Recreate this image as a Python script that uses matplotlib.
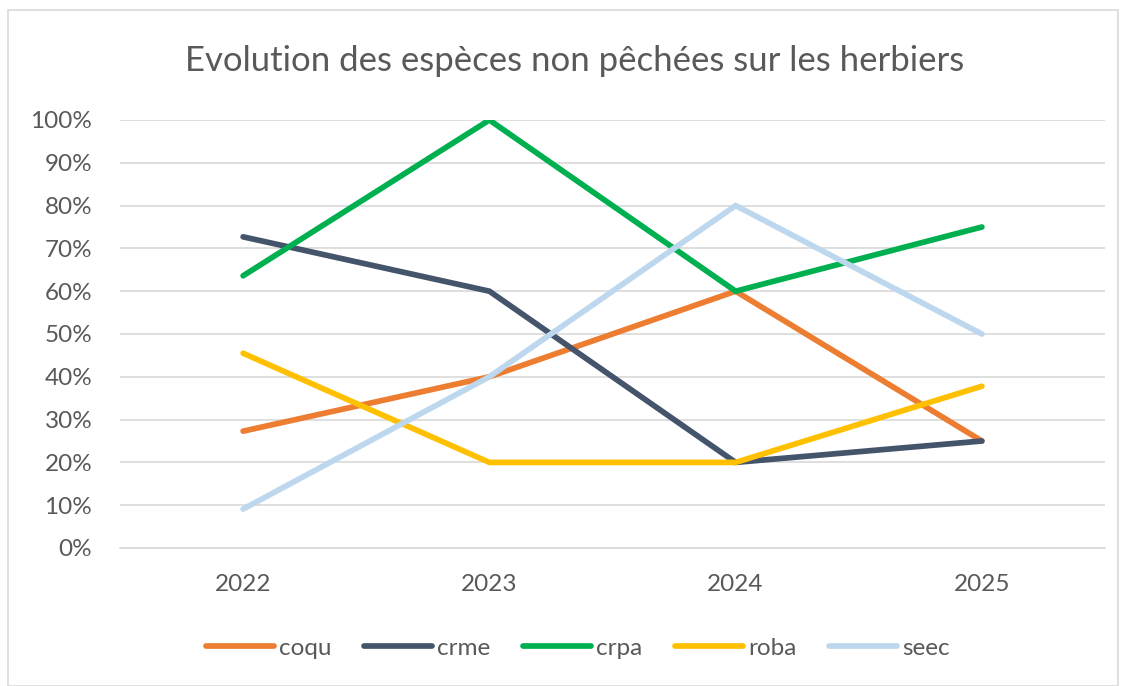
import matplotlib
matplotlib.use("Agg")
import matplotlib.pyplot as plt
from matplotlib.ticker import FuncFormatter, MultipleLocator
from matplotlib.patches import Rectangle

years = ["2022", "2023", "2024", "2025"]
coqu = [27.3, 40.0, 60.0, 25.0]
crme = [72.7, 60.0, 20.0, 25.0]
crpa = [63.6, 100.0, 60.0, 75.0]
roba = [45.5, 20.0, 20.0, 37.8]
seec = [9.1, 40.0, 80.0, 50.0]

series = [("coqu", coqu, "#ED7D31"), ("crme", crme, "#44546A"),
          ("crpa", crpa, "#00B050"), ("roba", roba, "#FFC000"),
          ("seec", seec, "#BDD7EE")]

plt.rcParams['font.family'] = ['Lato', 'DejaVu Sans']
txt = "#595959"

fig = plt.figure(figsize=(11.27, 6.86), dpi=100)
fig.patches.append(Rectangle((8/1127, 0), 1110/1127, 1 - 10/686, transform=fig.transFigure,
                             fill=False, edgecolor="#d9d9d9", linewidth=1.2))
ax = fig.add_axes([120/1127, (686-548)/686, (1105-120)/1127, (548-120)/686])

x = list(range(len(years)))
for name, vals, col in series:
    ax.plot(x, vals, color=col, linewidth=4.1, label=name, solid_capstyle='round',
            solid_joinstyle='miter')

ax.set_xlim(-0.5, 3.5)
ax.set_ylim(0, 100)
ax.yaxis.set_major_locator(MultipleLocator(10))
ax.yaxis.set_major_formatter(FuncFormatter(lambda v, p: f"{int(v)}%"))
ax.set_xticks(x)
ax.set_xticklabels(years)
ax.grid(axis='y', color="#d9d9d9", linewidth=1.2)
ax.set_axisbelow(True)
for s in ["top", "right", "left"]:
    ax.spines[s].set_visible(False)
ax.spines["bottom"].set_color("#d9d9d9")
ax.spines["bottom"].set_linewidth(1.2)
ax.tick_params(axis='both', length=0, labelsize=17.5, colors=txt)
ax.tick_params(axis='x', pad=19)
ax.tick_params(axis='y', pad=20)

fig.text(574.5/1127, 1 - 61/686, "Evolution des espèces non pêchées sur les herbiers",
         ha='center', va='center', fontsize=25, color=txt)

leg = fig.legend(loc='center', bbox_to_anchor=(578/1127, 1 - 648/686), ncol=5,
                 frameon=False, fontsize=17.5, handlelength=2.8, handletextpad=0.2,
                 columnspacing=1.35)
for t in leg.get_texts():
    t.set_color(txt)

fig.savefig("out.png", dpi=100)
